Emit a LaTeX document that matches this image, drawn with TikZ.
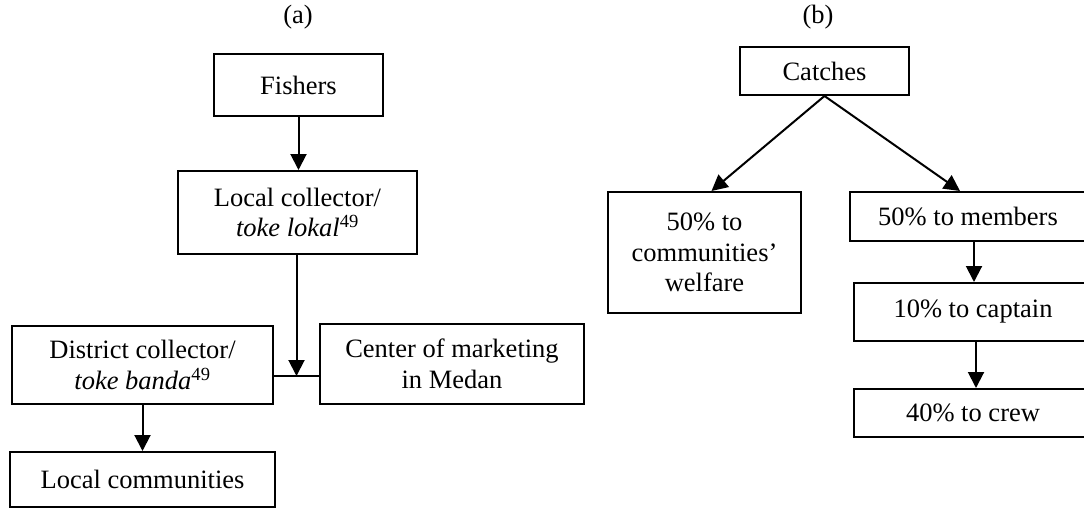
\documentclass[tikz,border=0pt]{standalone}
\usepackage{fontspec}
\setmainfont{Liberation Serif}
\usetikzlibrary{arrows.meta,calc}
\begin{document}
\begin{tikzpicture}[x=1pt,y=-1pt,
  every node/.style={font=\fontsize{26.5}{30.5}\selectfont, inner sep=0pt},
  box/.style={draw, line width=2pt, align=center},
  flow/.style={line width=2pt, -{Triangle[length=16pt,width=16pt]}},
  link/.style={line width=2pt}]
\useasboundingbox (0,0) rectangle (1084,508);
\clip (0,0) rectangle (1084,508);

% (a) marketing chain
\node (capA) at (298,17) {(a)};
\node[box, minimum width=169pt, minimum height=62pt] (fish) at (298.5,85) {Fishers};
\node[box, minimum width=239pt, minimum height=83pt] (lc) at (297.5,212.5)
  {Local collector/\\\textit{toke lokal}\textsuperscript{49}};
\node[box, minimum width=261pt, minimum height=78pt] (dc) at (142.5,365)
  {District collector/\\\textit{toke banda}\textsuperscript{49}};
\node[box, minimum width=264pt, minimum height=80pt] (cm) at (452,364)
  {Center of marketing\\in Medan};
\node[box, minimum width=265pt, minimum height=55pt] (lcom) at (142.5,479.5)
  {Local communities};
\coordinate (J) at (296.5,376);

\draw[flow] (fish.south) -- (fish.south |- lc.north);
\draw[link] (dc.east |- J) -- (cm.west |- J);
\draw[flow] (J |- lc.south) -- (J);
\draw[flow] (dc.south) -- (lcom.north);

% (b) sharing of catches
\node (capB) at (818,17) {(b)};
\node[box, minimum width=169pt, minimum height=48pt] (catch) at (824.5,71) {Catches};
\node[box, minimum width=193pt, minimum height=121pt] (wel) at (704.5,252.5)
  {50\% to\\communities’\\welfare};
\node[box, minimum width=236pt, minimum height=49pt] (mem) at (968,216.5) {50\% to members};
\node[box, minimum width=238pt, minimum height=58pt] (cap) at (973,312) {10\% to captain};
\node[box, minimum width=238pt, minimum height=48pt] (crew) at (973,413) {40\% to crew};

\draw[flow] (catch.south) -- ([xshift=7pt]wel.north);
\draw[flow] (catch.south) -- ([xshift=-8pt]mem.north);
\draw[flow] ([xshift=6pt]mem.south) -- ([xshift=6pt]mem.south |- cap.north);
\draw[flow] ([xshift=3pt]cap.south) -- ([xshift=3pt]cap.south |- crew.north);
\end{tikzpicture}
\end{document}
